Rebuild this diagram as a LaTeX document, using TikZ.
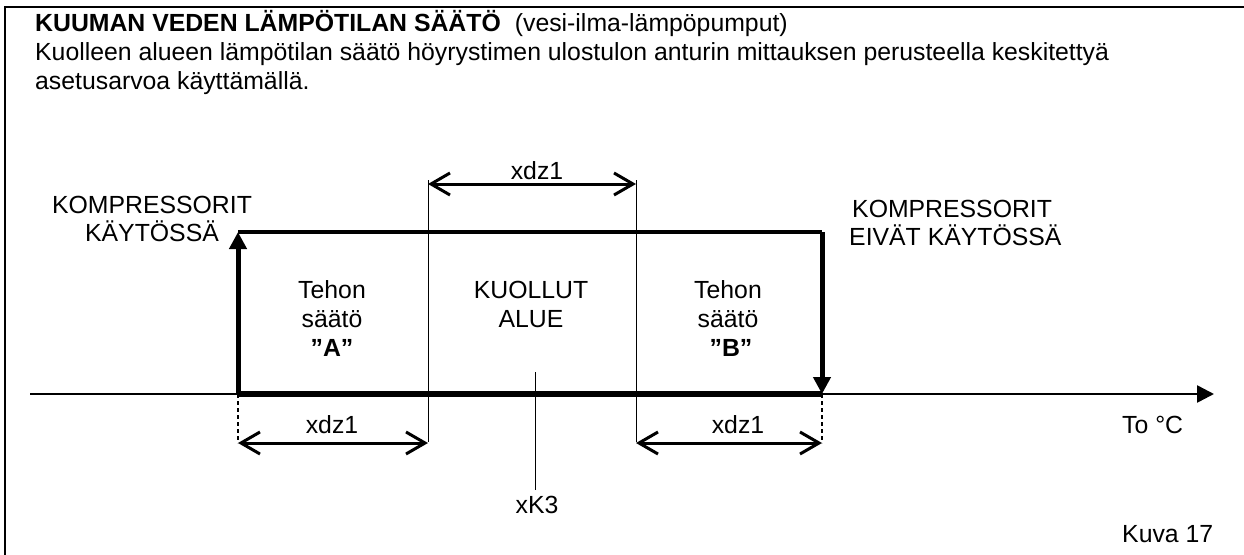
\documentclass[tikz,border=0pt]{standalone}
\usepackage{fontspec}
\setmainfont{Liberation Sans}
\usetikzlibrary{arrows.meta}
\begin{document}
\begin{tikzpicture}[x=1pt,y=-1pt,
  lbl/.style={inner sep=0pt,font=\fontsize{24.8}{28.8}\selectfont},
  thickln/.style={line width=5pt},
  guide/.style={line width=1pt},
  dim/.style={line width=3pt,{Straight Barb[length=19pt,width=22pt,line width=3pt]}-{Straight Barb[length=19pt,width=22pt,line width=3pt]}},
  dashln/.style={line width=2pt,dash pattern=on 4pt off 3pt},
  fillarrow/.style={-{Triangle[length=17pt,width=17pt]}}
]
\useasboundingbox (0,0) rectangle (1244,554);
% frame
\draw[line width=1.5pt] (5,560) -- (5,7) -- (1250,7);
% title and description
\node[lbl,anchor=base west] (title) at (35,31)
  {\textbf{KUUMAN VEDEN LÄMPÖTILAN SÄÄTÖ}\hspace{14pt}(vesi-ilma-lämpöpumput)};
\node[lbl,anchor=base west] (desc1) at (35,60)
  {Kuolleen alueen lämpötilan säätö höyrystimen ulostulon anturin mittauksen perusteella keskitettyä};
\node[lbl,anchor=base west] (desc2) at (35,89)
  {asetusarvoa käyttämällä.};
% key points
\coordinate (ax0) at (30,394);
\coordinate (ax1) at (1214,394);
\coordinate (pA) at (238,394);
\coordinate (pAt) at (238,232);
\coordinate (pB) at (822,394);
\coordinate (pBt) at (822,232);
\coordinate (g1t) at (428,180);
\coordinate (g1b) at (428,442);
\coordinate (g2t) at (636,180);
\coordinate (g2b) at (636,442);
\coordinate (kt) at (535,372);
\coordinate (kb) at (535,490);
\coordinate (dA) at (238,443);
\coordinate (dB) at (822,443);
\coordinate (d1) at (428,443);
\coordinate (d2) at (636,443);
\coordinate (u1) at (428,184);
\coordinate (u2) at (636,184);
% axis
\draw[line width=2.5pt,fillarrow] (ax0) -- (ax1);
\draw[line width=5.5pt] (pA) -- (pB);
% top line
\draw[line width=3.5pt] (pAt) -- (pBt);
% verticals with arrows
\draw[thickln,fillarrow] (pA) -- (pAt);
\draw[thickln,fillarrow] (pBt) -- (pB);
% guides
\draw[guide] (g1t) -- (g1b);
\draw[guide] (g2t) -- (g2b);
\draw[guide] (kt) -- (kb);
\draw[dashln] (pA) -- (dA);
\draw[dashln] (pB) -- (dB);
% dimension arrows
\draw[dim] (u1) -- (u2);
\draw[dim] (dA) -- (d1);
\draw[dim] (d2) -- (dB);
\node[lbl,anchor=base] (lu) at (537,179) {xdz1};
\node[lbl,anchor=base] (lA) at (332,433) {xdz1};
\node[lbl,anchor=base] (lB) at (738,433) {xdz1};
% labels
\node[lbl,anchor=base] (kon1) at (152,213) {KOMPRESSORIT};
\node[lbl,anchor=base] (kon2) at (152,241) {KÄYTÖSSÄ};
\node[lbl,anchor=base west] (koff1) at (852,217) {KOMPRESSORIT};
\node[lbl,anchor=base west] (koff2) at (849,245) {EIVÄT KÄYTÖSSÄ};
\node[lbl,anchor=base] (ta1) at (332,298) {Tehon};
\node[lbl,anchor=base] (ta2) at (332,327) {säätö};
\node[lbl,anchor=base] (ta3) at (332,356) {\textbf{”A”}};
\node[lbl,anchor=base] (dz1) at (531,298) {KUOLLUT};
\node[lbl,anchor=base] (dz2) at (531,327) {ALUE};
\node[lbl,anchor=base] (tb1) at (728,298) {Tehon};
\node[lbl,anchor=base] (tb2) at (728,327) {säätö};
\node[lbl,anchor=base] (tb3) at (731,356) {\textbf{”B”}};
\node[lbl,anchor=base] (xk) at (537,513) {xK3};
\node[lbl,anchor=base west] (to) at (1122,433) {To °C};
\node[lbl,anchor=base west] (kuva) at (1122,542) {Kuva 17};
\end{tikzpicture}
\end{document}
